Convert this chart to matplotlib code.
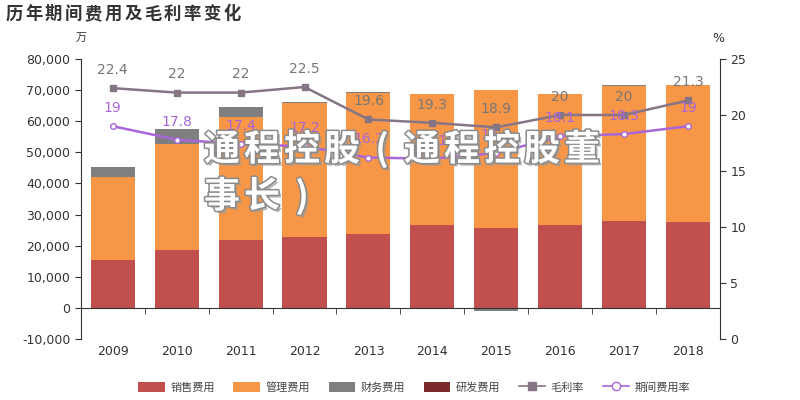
import numpy as np
import matplotlib
matplotlib.use('Agg')
import matplotlib.pyplot as plt
from matplotlib.patches import Patch
from matplotlib.lines import Line2D
import matplotlib.patheffects as pe

plt.rcParams['font.family'] = ['DejaVu Sans', 'Noto Sans CJK SC']

# data (万元 / %)
years = ['2009', '2010', '2011', '2012', '2013', '2014', '2015', '2016', '2017', '2018']
sales = [15400, 18500, 21900, 22900, 23800, 26500, 25600, 26700, 27900, 27600]
admin = [26600, 34200, 39400, 43100, 45200, 42300, 44400, 41900, 43500, 43900]
finance = [3300, 4800, 3200, 300, 300, -400, -900, -200, 300, 100]
rnd = [0, 0, 0, 0, 0, 0, 0, 0, 0, 0]
gross_margin = [22.4, 22, 22, 22.5, 19.6, 19.3, 18.9, 20, 20, 21.3]
expense_rate = [19, 17.8, 17.4, 17.2, 16.2, 16.1, 16.6, 18.1, 18.3, 19]

title = '历年期间费用及毛利率变化'
watermark = ['通程控股(通程控股董', '事长)']

c_sales = '#c0504d'
c_admin = '#f79646'
c_fin = '#7f7f7f'
c_rnd = '#7b2a2a'
c_gm = '#857585'
c_er = '#a866d8'

fig = plt.figure(figsize=(8, 4), dpi=100)
ax = fig.add_axes([0.101, 0.1525, 0.799, 0.7])
ax2 = ax.twinx()

x = np.arange(len(years))
w = 0.69
sales = np.array(sales)
admin = np.array(admin)
finance = np.array(finance)
ax.bar(x, sales, w, color=c_sales, zorder=2)
ax.bar(x, admin, w, bottom=sales, color=c_admin, zorder=2)
fin_bottom = np.where(finance >= 0, sales + admin, 0)
ax.bar(x, finance, w, bottom=fin_bottom, color=c_fin, zorder=2)
ax.bar(x, rnd, w, bottom=sales + admin + np.clip(finance, 0, None), color=c_rnd, zorder=2)

ax.set_xlim(-0.5, len(years) - 0.5)
ax.set_ylim(-10000, 80000)
ax.set_yticks(range(-10000, 80001, 10000))
ax.set_yticklabels([f'{v:,}' for v in range(-10000, 80001, 10000)])
ax.spines['bottom'].set_position(('data', 0))
ax.spines['top'].set_visible(False)
ax.spines['right'].set_visible(False)
ax.set_xticks(x)
ax.set_xticklabels(years)
ax.set_xticks(np.arange(-0.5, len(years)), minor=True)
ax.tick_params(axis='x', which='major', length=0, pad=27, labelsize=9, colors='#333333')
ax.tick_params(axis='x', which='minor', length=4, color='#333333')
ax.tick_params(axis='y', labelsize=9, colors='#333333', length=4)
for s in ['left', 'bottom']:
    ax.spines[s].set_color('#333333')

ax2.plot(x, gross_margin, color=c_gm, lw=1.8, marker='s', ms=4, zorder=5)
ax2.plot(x, expense_rate, color=c_er, lw=1.8, marker='o', ms=4,
         mfc='white', mec=c_er, zorder=5)
for xi, v in zip(x, gross_margin):
    ax2.annotate(f'{v:g}', (xi, v), xytext=(0, 8), textcoords='offset points',
                 ha='center', va='bottom', fontsize=10, color='#777777', zorder=6)
for xi, v in zip(x, expense_rate):
    ax2.annotate(f'{v:g}', (xi, v), xytext=(0, 8), textcoords='offset points',
                 ha='center', va='bottom', fontsize=10, color=c_er, zorder=6)
ax2.set_ylim(0, 25)
ax2.set_yticks([0, 5, 10, 15, 20, 25])
ax2.tick_params(axis='y', labelsize=9, colors='#333333', length=4)
for s in ['top', 'left', 'bottom']:
    ax2.spines[s].set_visible(False)
ax2.spines['right'].set_color('#333333')

# title, drawn with letter spacing
for i, ch in enumerate(title):
    fig.text((14 + i * 19.8) / 800, 0.965, ch, fontsize=12.5, fontweight='bold',
             color='#333333', ha='center', va='center', family=['Noto Sans CJK SC'])
fig.text(0.101, 0.905, '万', fontsize=8, color='#333333', ha='center', va='center',
         family=['Noto Sans CJK SC'])
fig.text(0.898, 0.905, '%', fontsize=9, color='#333333', ha='center', va='center')

# watermark
wm_fx = [pe.withSimplePatchShadow(offset=(2, -2), shadow_rgbFace='#9a9a9a', alpha=0.7),
         pe.withStroke(linewidth=2.2, foreground='#8a8a8a')]
for row, (line, yy) in enumerate(zip(watermark, [150, 197])):
    for i, ch in enumerate(line):
        fig.text((222 + i * 40) / 800, 1 - yy / 400, ch, fontsize=26, fontweight='bold',
                 color='white', ha='center', va='center', family=['Noto Sans CJK SC'],
                 path_effects=wm_fx, zorder=10)

handles = [
    Patch(facecolor=c_sales, label='销售费用'),
    Patch(facecolor=c_admin, label='管理费用'),
    Patch(facecolor=c_fin, label='财务费用'),
    Patch(facecolor=c_rnd, label='研发费用'),
    Line2D([], [], color=c_gm, marker='s', ms=6, lw=1.2, label='毛利率'),
    Line2D([], [], color=c_er, marker='o', ms=6, mfc='white', lw=1.2, label='期间费用率'),
]
leg = fig.legend(handles=handles, loc='center', bbox_to_anchor=(0.518, 0.032), ncol=6,
                 frameon=False, handlelength=2.4, handleheight=1.1,
                 columnspacing=1.65, handletextpad=0.5, prop={'family': ['Noto Sans CJK SC'], 'size': 8})
for t in leg.get_texts():
    t.set_color('#444444')

fig.savefig('out.png', dpi=100)
